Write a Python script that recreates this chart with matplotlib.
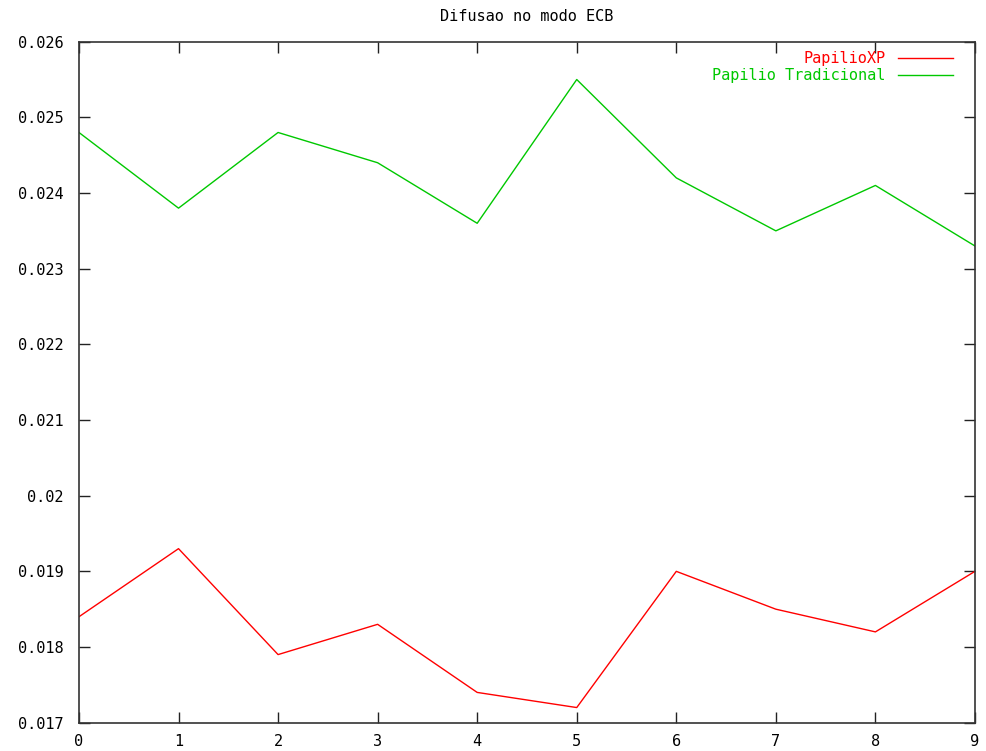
import numpy as np
import matplotlib.pyplot as plt
import matplotlib as mpl

mpl.rcParams['font.family'] = 'DejaVu Sans Mono'
mpl.rcParams['font.size'] = 11

# data
x = np.arange(10)
papilio_xp = [0.0184, 0.0193, 0.0179, 0.0183, 0.0174, 0.0172, 0.0190, 0.0185, 0.0182, 0.0190]
papilio_trad = [0.0248, 0.0238, 0.0248, 0.0244, 0.0236, 0.0255, 0.0242, 0.0235, 0.0241, 0.0233]
yticks = [0.017, 0.018, 0.019, 0.02, 0.021, 0.022, 0.023, 0.024, 0.025, 0.026]

red = '#ff0000'
green = '#00c800'

fig = plt.figure(figsize=(9.87, 7.51), dpi=100)
ax = fig.add_axes([0.080, 0.0377, 0.9078, 0.9068])

ax.plot(x, papilio_xp, color=red, lw=1.0, label='PapilioXP')
ax.plot(x, papilio_trad, color=green, lw=1.0, label='Papilio Tradicional')

ax.set_xlim(0, 9)
ax.set_ylim(0.017, 0.026)
ax.set_xticks(x)
ax.set_yticks(yticks)
ax.set_yticklabels(['%g' % v for v in yticks])
ax.tick_params(direction='in', length=8, width=1, top=True, right=True,
               color='#222222', labelsize=11)
ax.tick_params(axis='y', pad=11)
ax.tick_params(axis='x', pad=8)
for s in ax.spines.values():
    s.set_color('#333333')
    s.set_linewidth(1.2)

ax.set_title('Difusao no modo ECB', fontsize=11, pad=15)

leg = ax.legend(loc='upper right', bbox_to_anchor=(0.9754, 0.986),
                frameon=False, markerfirst=False,
                handlelength=3.6, handletextpad=0.8, labelspacing=0.12,
                borderaxespad=0, borderpad=0, fontsize=11)
for t, c in zip(leg.get_texts(), [red, green]):
    t.set_color(c)

plt.savefig('out.png', dpi=100)
